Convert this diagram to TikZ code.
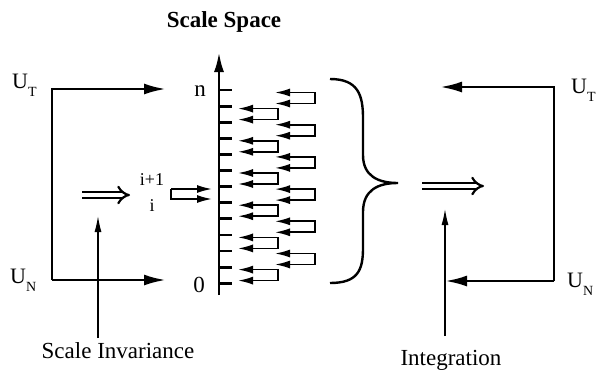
\documentclass[tikz,border=0pt]{standalone}
\usepackage{fontspec}
\setmainfont{Liberation Serif}
\usetikzlibrary{arrows.meta}

% U with a lowered index letter
\newcommand{\Uidx}[1]{U\raisebox{-8pt}{\fontsize{14}{14}\selectfont #1}}

\begin{document}
\begin{tikzpicture}[x=1pt,y=-1pt]
\tikzset{
  wire/.style={line width=2.8pt,-{Latex[length=22pt,width=11pt]}},
  axis/.style={line width=2.8pt,-{Latex[length=20pt,width=10pt]}},
  tick/.style={line width=2.8pt},
  pair/.style={line width=1.7pt,{Latex[length=15pt,width=8pt]}-{Latex[length=15pt,width=8pt]}},
  feed/.style={line width=1.7pt,-{Latex[length=15pt,width=8pt]}},
  pointer/.style={line width=1.2pt,-{Latex[length=16pt,width=7pt]}},
  implies/.style={line width=2.2pt,double distance=4pt,-{Implies}},
  brace/.style={line width=2.4pt},
  lbl/.style={font=\fontsize{23}{28}\selectfont,inner sep=0pt},
  ulbl/.style={font=\fontsize{22}{26}\selectfont,inner sep=0pt},
  small/.style={font=\fontsize{18}{20}\selectfont,inner sep=0pt}
}
\useasboundingbox (0,0) rectangle (597,373);

% title
\node[lbl,font=\fontsize{23}{28}\selectfont\bfseries,anchor=base] (title) at (224,27) {Scale Space};

% left frame
\coordinate (lt) at (52,89);
\coordinate (lb) at (52,280);
\coordinate (lto) at (166,89);
\coordinate (lbo) at (166,280);
\draw[wire] (lb) -- (lt) -- (lto);
\draw[wire] (lb) -- (lbo);
\node[ulbl,anchor=base west] (ut) at (12,88) {\Uidx{T}};
\node[ulbl,anchor=base west] (un) at (10,283) {\Uidx{N}};

% scale axis
\coordinate (a0) at (219,295);
\coordinate (a1) at (219,52);
\draw[axis] (a0) -- (a1);
\foreach \k in {0,...,12}
  \draw[tick] (219,90+16.1*\k) -- (232,90+16.1*\k);
\node[lbl,anchor=base] (n) at (200,96) {n};
\node[lbl,anchor=base] (zero) at (199,292) {0};

% returning arrow pairs, alternating columns
\foreach \j in {0,...,11}{
  \pgfmathsetmacro{\yc}{98+16.1*\j}
  \pgfmathsetmacro{\xb}{iseven(\j) ? 315 : 278}
  \draw[pair] (\xb-40,\yc-5.5) -- (\xb,\yc-5.5) -- (\xb,\yc+5.5) -- (\xb-40,\yc+5.5);
}

% input between i and i+1
\draw[feed] (171,189) -- (212,189);
\draw[feed] (171,189) -- (171,199) -- (212,199);
\node[small,anchor=base] (ip) at (152,185) {i+1};
\node[small,anchor=base] (ii) at (152,211) {i};

% brace
\draw[brace] (330,79) .. controls (358,79) and (363,95) .. (363,118)
  -- (363,155) .. controls (363,176) and (378,183) .. (398,183)
  .. controls (378,183) and (363,190) .. (363,212)
  -- (363,248) .. controls (363,270) and (358,283) .. (330,283);

% double arrows
\coordinate (dl0) at (82,195);
\coordinate (dl1) at (130,195);
\draw[implies] (dl0) -- (dl1);
\coordinate (dr0) at (422,186);
\coordinate (dr1) at (484,186);
\draw[implies] (dr0) -- (dr1);

% right frame
\coordinate (rt) at (554,87);
\coordinate (rb) at (554,281);
\coordinate (rto) at (440,87);
\coordinate (rbo) at (445,281);
\draw[wire] (rb) -- (rt) -- (rto);
\draw[wire] (rb) -- (rbo);
\node[ulbl,anchor=base west] (rut) at (571,93) {\Uidx{T}};
\node[ulbl,anchor=base west] (run) at (567,287) {\Uidx{N}};

% captions
\node[lbl,anchor=base] (inv) at (118,358) {Scale Invariance};
\node[lbl,anchor=base] (integ) at (451,365) {Integration};
\coordinate (inv0) at (98,338);
\coordinate (inv1) at (98,216);
\draw[pointer] (inv0) -- (inv1);
\coordinate (int0) at (445,336);
\coordinate (int1) at (445,209);
\draw[pointer] (int0) -- (int1);
\end{tikzpicture}
\end{document}
